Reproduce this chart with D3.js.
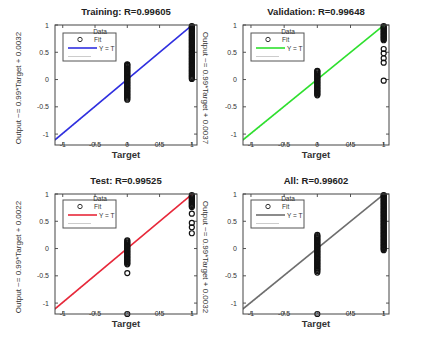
<!DOCTYPE html>
<html>
<head>
<meta charset="utf-8">
<script src="https://cdn.jsdelivr.net/npm/d3@7"></script>
<style>
  body { margin: 0; background: #fff; }
  svg { font-family: "Liberation Sans", Arial, sans-serif; }
</style>
</head>
<body>
<div id="chart"></div>
<script>
// outputs, grouped by target (0 or 1)
const trainAt0 = [-0.37,-0.35,-0.33,-0.31,-0.29,-0.27,-0.25,-0.23,-0.21,-0.19,-0.17,-0.15,-0.13,-0.11,-0.09,-0.07,-0.05,-0.03,-0.01,0.01,0.03,0.05,0.07,0.09,0.11,0.13,0.15,0.17,0.19,0.21,0.23,0.25,0.27,0.28];
const trainAt1 = [0.01,0.03,0.05,0.07,0.09,0.11,0.13,0.15,0.17,0.19,0.21,0.23,0.25,0.27,0.29,0.31,0.33,0.35,0.37,0.39,0.41,0.43,0.45,0.47,0.49,0.51,0.53,0.55,0.57,0.59,0.61,0.63,0.65,0.67,0.69,0.71,0.73,0.75,0.77,0.79,0.81,0.83,0.85,0.87,0.89,0.91,0.93,0.95,0.97,0.98];
const valAt0 = [-0.29,-0.27,-0.25,-0.23,-0.21,-0.19,-0.17,-0.15,-0.13,-0.11,-0.09,-0.07,-0.05,-0.03,-0.01,0.01,0.03,0.05,0.07,0.09,0.11,0.13,0.15,0.16];
const valAt1 = [-0.02,0.31,0.39,0.48,0.56,0.72,0.74,0.76,0.78,0.80,0.82,0.84,0.86,0.88,0.90,0.92,0.94,0.96,0.98];
const testAt0 = [-1.2,-0.45,-0.29,-0.27,-0.25,-0.23,-0.21,-0.19,-0.17,-0.15,-0.13,-0.11,-0.09,-0.07,-0.05,-0.03,-0.01,0.01,0.03,0.05,0.07,0.09,0.11,0.13,0.15];
const testAt1 = [0.28,0.39,0.47,0.64,0.76,0.78,0.80,0.82,0.84,0.86,0.88,0.90,0.92,0.94,0.96,0.98];
const allAt0 = [-1.2,-0.44,-0.41,-0.39,-0.37,-0.35,-0.33,-0.31,-0.29,-0.27,-0.25,-0.23,-0.21,-0.19,-0.17,-0.15,-0.13,-0.11,-0.09,-0.07,-0.05,-0.03,-0.01,0.01,0.03,0.05,0.07,0.09,0.11,0.13,0.15,0.17,0.19,0.21,0.23,0.25];
const allAt1 = [-0.03,-0.01,0.01,0.03,0.05,0.07,0.09,0.11,0.13,0.15,0.17,0.19,0.21,0.23,0.25,0.27,0.29,0.31,0.33,0.35,0.37,0.39,0.41,0.43,0.45,0.47,0.49,0.51,0.53,0.55,0.57,0.59,0.61,0.63,0.65,0.67,0.69,0.71,0.73,0.75,0.77,0.79,0.81,0.83,0.85,0.87,0.89,0.91,0.93,0.95,0.97,0.98];

const titles = ["Training: R=0.99605", "Validation: R=0.99648", "Test: R=0.99525", "All: R=0.99602"];
const fitLabels = ["Output ~= 0.99*Target + 0.0032", "Output ~= 0.99*Target + 0.0037", "Output ~= 0.99*Target + 0.0022", "Output ~= 0.99*Target + 0.0032"];
const fitSlope = [0.99, 0.99, 0.99, 0.99];
const fitOffset = [0.0032, 0.0037, 0.0022, 0.0032];
const tickValues = [-1, -0.5, 0, 0.5, 1];
const tickLabels = ["-1", "-0.5", "0", "0.5", "1"];
const legendLabels = ["Data", "Fit", "Y = T"];
const lineColors = ["#2f2fe0", "#2ee02e", "#e8283a", "#6e6e6e"];

const W = 428, H = 354;
const svg = d3.select("#chart").append("svg")
    .attr("width", W)
    .attr("height", H);

// panel boxes [left, top, width, height]
const boxes = [
    [55, 25, 142, 120],
    [243, 25, 146, 120],
    [55, 194, 142, 120],
    [243, 194, 146, 120]
];
const points = [
    [trainAt0, trainAt1],
    [valAt0, valAt1],
    [testAt0, testAt1],
    [allAt0, allAt1]
];

function drawPanel(i) {
    const [left, top, w, h] = boxes[i];
    const x = d3.scaleLinear().domain([-1.12, 1.08]).range([left, left + w]);
    const y = d3.scaleLinear().domain([-1.2, 1.0]).range([top + h, top]);
    const g = svg.append("g");

    g.append("defs").append("clipPath")
        .attr("id", "clip" + i)
        .append("rect")
        .attr("x", left).attr("y", top)
        .attr("width", w).attr("height", h);

    // ticks on all four sides, pointing inward
    tickValues.forEach(t => {
        g.append("line").attr("x1", x(t)).attr("x2", x(t)).attr("y1", top + h).attr("y2", top + h - 3).attr("stroke", "#555");
        g.append("line").attr("x1", x(t)).attr("x2", x(t)).attr("y1", top).attr("y2", top + 3).attr("stroke", "#555");
        g.append("line").attr("y1", y(t)).attr("y2", y(t)).attr("x1", left).attr("x2", left + 3).attr("stroke", "#555");
        g.append("line").attr("y1", y(t)).attr("y2", y(t)).attr("x1", left + w).attr("x2", left + w - 3).attr("stroke", "#555");
    });

    // Y = T (hidden under the fit line)
    const lineGen = d3.line().x(d => x(d[0])).y(d => y(d[1]));
    g.append("path")
        .attr("d", lineGen([[-1.12, -1.12], [1.08, 1.08]]))
        .attr("stroke", "#aaa")
        .attr("stroke-dasharray", "1,2")
        .attr("fill", "none")
        .attr("clip-path", `url(#clip${i})`);

    // fit line
    g.append("path")
        .attr("d", lineGen([[-1.12, fitSlope[i] * -1.12 + fitOffset[i]], [1.08, fitSlope[i] * 1.08 + fitOffset[i]]]))
        .attr("stroke", lineColors[i])
        .attr("stroke-width", 1.6)
        .attr("fill", "none")
        .attr("clip-path", `url(#clip${i})`);

    // data circles
    const data = [];
    points[i][0].forEach(v => data.push([0, v]));
    points[i][1].forEach(v => data.push([1, v]));
    g.selectAll("circle.pt")
        .data(data)
        .enter()
        .append("circle")
        .attr("class", "pt")
        .attr("cx", d => x(d[0]))
        .attr("cy", d => y(d[1]))
        .attr("r", 2.5)
        .attr("fill", "none")
        .attr("stroke", "#111")
        .attr("stroke-width", 1.2);

    // box
    g.append("rect")
        .attr("x", left).attr("y", top)
        .attr("width", w).attr("height", h)
        .attr("fill", "none")
        .attr("stroke", "#444")
        .attr("stroke-width", 1);

    // tick labels
    g.selectAll("text.yt")
        .data(tickValues)
        .enter()
        .append("text")
        .attr("x", left - 6)
        .attr("y", d => y(d) + 2.5)
        .attr("text-anchor", "end")
        .attr("font-size", "7px")
        .attr("fill", "#333")
        .text((d, k) => tickLabels[k]);
    g.selectAll("text.xt")
        .data(tickValues)
        .enter()
        .append("text")
        .attr("x", d => x(d))
        .attr("y", top + h + 2)
        .attr("text-anchor", "middle")
        .attr("font-size", "7px")
        .attr("fill", "#333")
        .text((d, k) => tickLabels[k]);

    // title and axis labels
    g.append("text")
        .attr("x", left + w / 2)
        .attr("y", top - 10)
        .attr("text-anchor", "middle")
        .attr("font-size", "9.5px")
        .attr("font-weight", "bold")
        .attr("fill", "#222")
        .text(titles[i]);
    g.append("text")
        .attr("x", left + w / 2)
        .attr("y", top + h + 13)
        .attr("text-anchor", "middle")
        .attr("font-size", "9.5px")
        .attr("font-weight", "bold")
        .attr("fill", "#333")
        .text("Target");

    const rightCol = i % 2 === 1;
    g.append("text")
        .attr("transform", `translate(${left - 37},${top + h / 2 + 3}) rotate(${rightCol ? 90 : -90})`)
        .attr("text-anchor", "middle")
        .attr("dy", "0.35em")
        .attr("font-size", "8px")
        .attr("fill", "#333")
        .text(fitLabels[i]);

    // legend
    const lx = left + 8, ly = top + (i < 2 ? 8 : 6);
    g.append("rect")
        .attr("x", lx).attr("y", ly)
        .attr("width", 53).attr("height", 28)
        .attr("fill", "#fff")
        .attr("stroke", "#555")
        .attr("stroke-width", 1);
    g.append("text")
        .attr("x", lx + 37).attr("y", ly + 1)
        .attr("text-anchor", "middle")
        .attr("font-size", "6.5px")
        .attr("fill", "#333")
        .text(legendLabels[0]);
    g.append("circle")
        .attr("cx", lx + 17).attr("cy", ly + 6.5)
        .attr("r", 2.2)
        .attr("fill", "none")
        .attr("stroke", "#333");
    g.append("text")
        .attr("x", lx + 31).attr("y", ly + 9)
        .attr("font-size", "6.5px")
        .attr("fill", "#333")
        .text(legendLabels[1]);
    g.append("line")
        .attr("x1", lx + 5).attr("x2", lx + 34)
        .attr("y1", ly + 15).attr("y2", ly + 15)
        .attr("stroke", lineColors[i])
        .attr("stroke-width", 1.6);
    g.append("text")
        .attr("x", lx + 36).attr("y", ly + 17.5)
        .attr("font-size", "6.5px")
        .attr("fill", "#333")
        .text(legendLabels[2]);
    g.append("line")
        .attr("x1", lx + 5).attr("x2", lx + 28)
        .attr("y1", ly + 23.5).attr("y2", ly + 23.5)
        .attr("stroke", "#ccc")
        .attr("stroke-width", 1);
}

for (let i = 0; i < 4; i++) drawPanel(i);
</script>
</body>
</html>
